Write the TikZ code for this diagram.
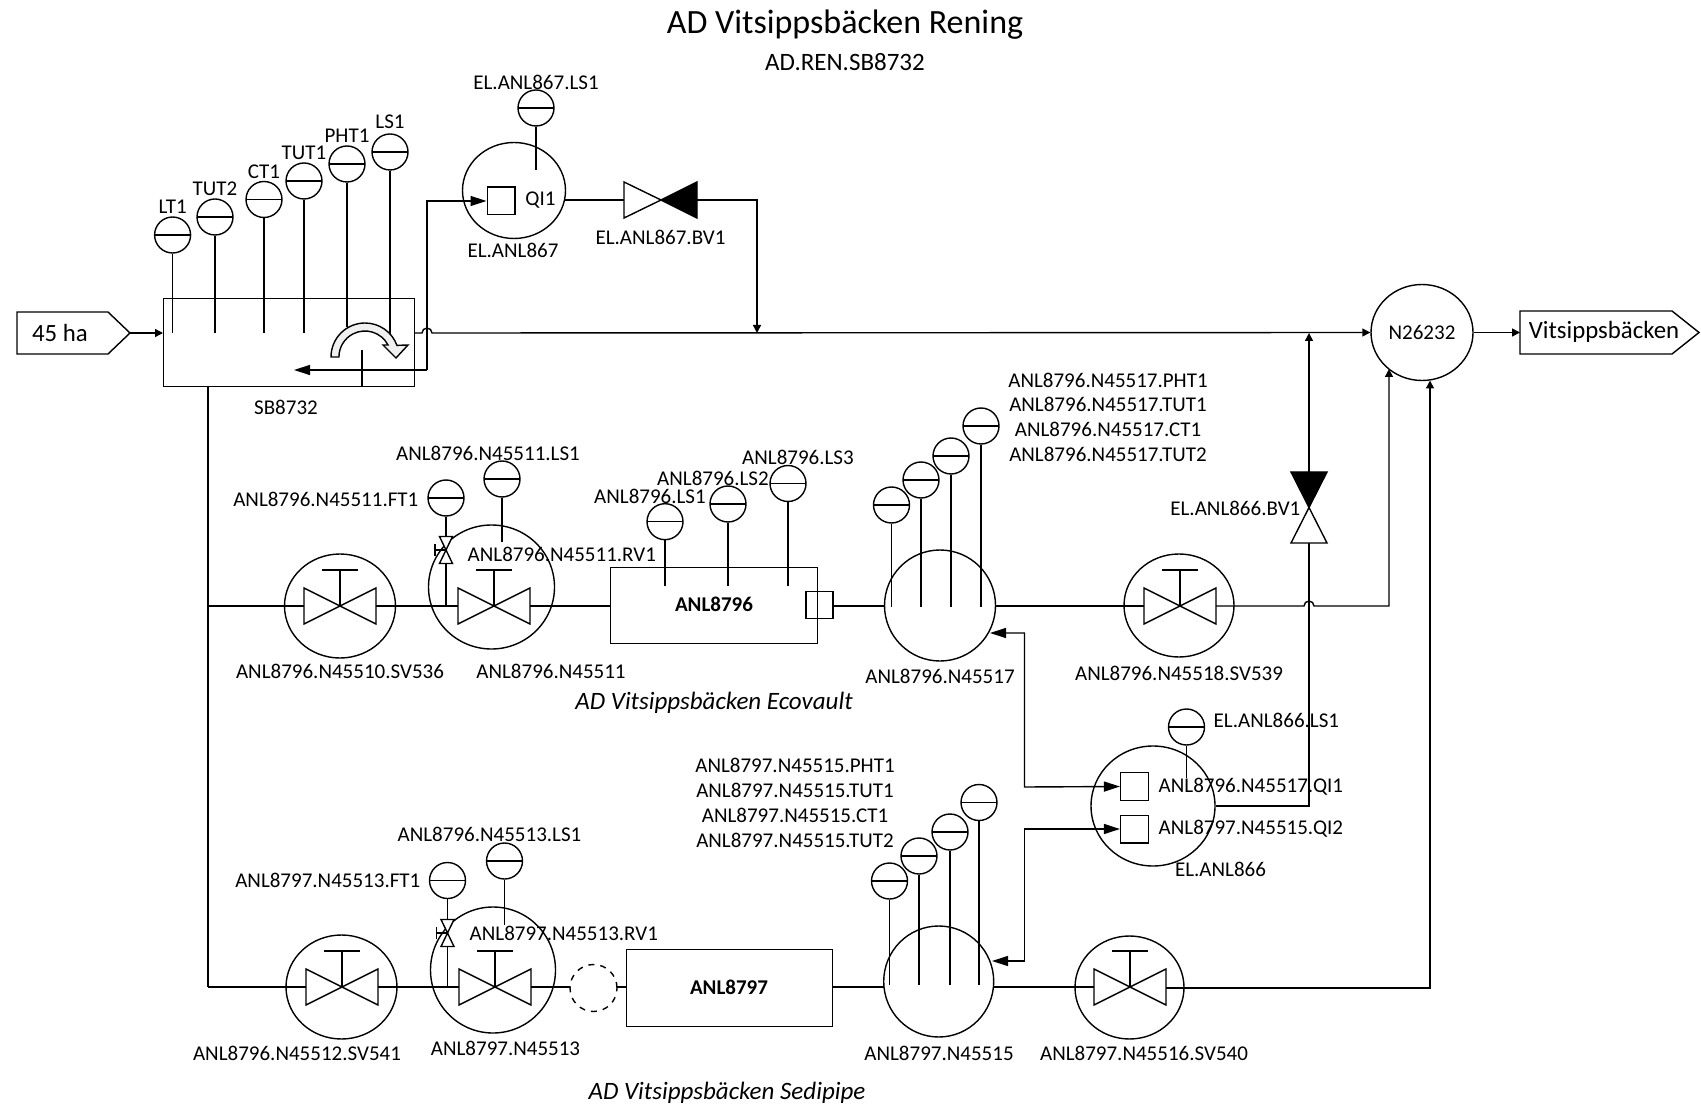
\documentclass[tikz,border=0pt]{standalone}
\usepackage{fontspec}
\setmainfont{Carlito}
\usetikzlibrary{shapes.geometric,arrows.meta}
\begin{document}
\begin{tikzpicture}[x=0.5pt,y=-0.5pt,line width=0.7pt,
  lbl/.style={font=\fontsize{10.5}{12}\selectfont,inner sep=0pt},
  big/.style={font=\fontsize{12.4}{14}\selectfont,inner sep=0pt},
  itl/.style={font=\fontsize{12.5}{14}\selectfont\itshape,inner sep=0pt},
  boldlbl/.style={font=\fontsize{10.5}{12}\selectfont\bfseries,inner sep=0pt},
  inst/.style={circle,draw,fill=white,minimum size=18pt,inner sep=0pt,
    path picture={\draw (path picture bounding box.west) -- (path picture bounding box.east);}},
  vessel/.style={ellipse,draw,inner sep=0pt},
  sq/.style={draw,fill=white,minimum size=13.8pt,inner sep=0pt},
  sa/.style={-{Triangle[length=4pt,width=4pt]}},
  ba/.style={-{Triangle[length=8pt,width=5pt]}},
  dba/.style={{Triangle[length=8pt,width=5pt]}-{Triangle[length=8pt,width=5pt]}},
  gatev/.pic={\draw[fill=white] (-36,-18) -- (0,0) -- (-36,18) -- cycle;
              \draw[fill=white] (36,-18) -- (0,0) -- (36,18) -- cycle;
              \draw (0,0) -- (0,-36); \draw (-18,-36) -- (18,-36);},
  smallv/.pic={\draw[fill=white] (-6.5,-13.5) -- (6.5,-13.5) -- (0,0) -- cycle;
               \draw[fill=white] (-6.5,13.5) -- (6.5,13.5) -- (0,0) -- cycle;
               \draw (0,0) -- (-11,0); \draw (-11,-6) -- (-11,6);}
]
\useasboundingbox (0,0) rectangle (1701,1106);

% titles
\node[font=\fontsize{17}{20}\selectfont,inner sep=0pt] (title) at (845,25) {AD Vitsippsbäcken Rening};
\node[font=\fontsize{12.5}{15}\selectfont,inner sep=0pt] (subtitle) at (845,62) {AD.REN.SB8732};

% inlet
\draw (17,312) -- (108,312) -- (130,333) -- (108,354) -- (17,354) -- cycle;
\node[big] (inlet) at (60,333) {45 ha};
\coordinate (inlettip) at (130,333);

% SB8732 box
\node[draw,minimum width=125.5pt,minimum height=44pt,inner sep=0pt,anchor=north west] (sb) at (163,298) {};
\node[lbl] (sblbl) at (286,407) {SB8732};
\draw[sa] (inlettip) -- (163,333);

% instruments on SB8732
\foreach \n/\x/\y/\t in {lt/172.6/235/LT1, tuttwo/215/217/TUT2, ct/264/199.5/CT1, tutone/304/181/TUT1}{
  \node[inst] (\n) at (\x,\y) {};
  \node[lbl] (\n l) at (\x,\y-28) {\t};
  \draw (\n.south) -- (\x,333);
}
\node[inst] (pht) at (347,164) {};
\node[lbl] (phtl) at (347,136) {PHT1};
\draw (pht.south) -- (347,327);
\node[inst] (lsone) at (390,152) {};
\node[lbl] (lsonel) at (390,122) {LS1};
\draw (lsone.south) -- (390,347);

% curved hollow arrow
\draw[fill=gray!12] (331,357) arc[start angle=180,end angle=20,radius=17pt]
   -- (408,345) -- (396,358) -- (383,345) -- (388,345)
   arc[start angle=27.5,end angle=180,radius=13pt] -- cycle;
\draw (362,350) -- (362,386);

% EL.ANL867
\node[vessel,minimum width=51.5pt,minimum height=48pt] (el867) at (514,190.5) {};
\node[sq] (sq867) at (501,201) {};
\node[lbl] (qi867) at (540.5,200) {QI1};
\node[lbl] (el867l) at (513,250) {EL.ANL867};
\node[inst] (el867ls) at (536,108) {};
\node[lbl] (el867lsl) at (536,82) {EL.ANL867.LS1};
\draw (el867ls.south) -- (536,170);
\draw[ba] (427,370) -- (294,370);
\draw[ba] (427,370) -- (427,201) -- (sq867.west);

% main line with hop
\node[vessel,minimum width=51pt,minimum height=48pt,font=\fontsize{10.5}{12}\selectfont] (n26) at (1422,332.5) {N26232};
\draw[sa] (414,333) -- (422,333) arc[start angle=180,end angle=0,radius=2.5pt] -- (n26.west);

% EL.ANL867.BV1
\draw (564.5,200) -- (624,200);
\draw[fill=white] (624,182) -- (661,200) -- (624,218) -- cycle;
\draw[fill=black] (697,182) -- (661,200) -- (697,218) -- cycle;
\node[lbl] (bv867l) at (660.5,237) {EL.ANL867.BV1};
\draw[sa] (697,200) -- (757,200) -- (757,333);

% outlet
\draw (1520,311) -- (1672,311) -- (1699,332.5) -- (1672,354) -- (1520,354) -- cycle;
\node[big] (outlet) at (1604,332) {Vitsippsbäcken};
\draw[sa] (n26.east) -- (1520,332.5);

% trunk
\draw (208,386) -- (208,987);

% ===== branch 1 (Ecovault) =====
\node[vessel,minimum width=55.5pt,minimum height=52pt] (sv536) at (340,606) {};
\pic at (340,606) {gatev};
\node[vessel,minimum width=63pt,minimum height=62pt] (n511) at (491.5,587) {};
\pic at (494,606) {gatev};
\draw (208,606) -- (304,606);
\draw (376,606) -- (458,606);
\draw (530,606) -- (610,606);
\node[inst] (ft511) at (446,498) {};
\draw (ft511.south) -- (446,537);
\pic at (446,550) {smallv};
\draw (446,563.5) -- (446,606);
\node[lbl,anchor=east] (ft511l) at (419,499) {ANL8796.N45511.FT1};
\node[inst] (ls511) at (502,479) {};
\draw (ls511.south) -- (502,542);
\node[lbl] (ls511l) at (488,453) {ANL8796.N45511.LS1};
\node[lbl,anchor=west] (rv511l) at (467,554) {ANL8796.N45511.RV1};
\node[lbl] (sv536l) at (340,671) {ANL8796.N45510.SV536};
\node[lbl] (n511l) at (551,671) {ANL8796.N45511};

\node[draw,minimum width=103.5pt,minimum height=38pt,inner sep=0pt,anchor=north west] (anl96) at (610,567) {};
\node[boldlbl] (anl96l) at (714,604) {ANL8796};
\node[draw,minimum size=13.5pt,inner sep=0pt] (sq96) at (819.5,605) {};
\foreach \n/\x/\y/\lx/\ly/\t in {lsa/665/521.7/650/496/ANL8796.LS1, lsb/728/504/713/478/ANL8796.LS2, lsc/788/483.5/798/457/ANL8796.LS3}{
  \node[inst] (\n) at (\x,\y) {};
  \draw (\n.south) -- (\x,586);
  \node[lbl] (\n l) at (\lx,\ly) {\t};
}
\node[itl] (eco) at (714,703) {AD Vitsippsbäcken Ecovault};

\node[vessel,minimum width=55.5pt,minimum height=55.5pt] (n517) at (940,605.5) {};
\draw (833,606) -- (885,606);
\foreach \n/\x/\y in {ia/891.5/505, ib/921/480, ic/951/456, id/981/426}{
  \node[inst] (\n) at (\x,\y) {};
  \draw (\n.south) -- (\x,607);
}
\node[lbl] (n517a) at (1108,380) {ANL8796.N45517.PHT1};
\node[lbl] (n517b) at (1108,404) {ANL8796.N45517.TUT1};
\node[lbl] (n517c) at (1108,429) {ANL8796.N45517.CT1};
\node[lbl] (n517d) at (1108,454) {ANL8796.N45517.TUT2};
\node[lbl] (n517l) at (940,676) {ANL8796.N45517};

\node[vessel,minimum width=55pt,minimum height=51.5pt] (sv539) at (1179,605.5) {};
\pic at (1180,606) {gatev};
\draw (995,606) -- (1144,606);
\node[lbl] (sv539l) at (1179,673) {ANL8796.N45518.SV539};
\draw[sa] (1216,606) -- (1304,606) arc[start angle=180,end angle=0,radius=2.5pt] -- (1389,606) -- (1389,369);

% EL.ANL866
\node[vessel,minimum width=62pt,minimum height=60pt] (el866) at (1153,806) {};
\node[sq] (sqa) at (1134.4,786.5) {};
\node[sq] (sqb) at (1134.4,829) {};
\node[lbl,anchor=west] (qia) at (1158,787) {ANL8796.N45517.QI1};
\node[lbl,anchor=west] (qib) at (1158,829) {ANL8797.N45515.QI2};
\node[lbl] (el866l) at (1220.5,869) {EL.ANL866};
\node[inst] (el866ls) at (1186.5,727) {};
\draw (el866ls.south) -- (1186.5,778);
\node[lbl,anchor=west] (el866lsl) at (1213,720) {EL.ANL866.LS1};

% EL.ANL866.BV1
\draw (el866.east) -- (1309,806) -- (1309,543);
\draw[fill=white] (1291,543) -- (1327,543) -- (1309,507.5) -- cycle;
\draw[fill=black] (1291,472) -- (1327,472) -- (1309,507.5) -- cycle;
\draw[sa] (1309,472) -- (1309,333);
\node[lbl,anchor=east] (bv866l) at (1301,508) {EL.ANL866.BV1};

% signals to squares
\draw[dba] (990,633) -- (1024.5,633) -- (1024.5,787) -- (sqa.west);
\draw[dba] (992,961) -- (1024.5,961) -- (1024.5,829) -- (sqb.west);

% ===== branch 2 (Sedipipe) =====
\node[vessel,minimum width=55.5pt,minimum height=52pt] (sv541) at (341.5,987) {};
\pic at (342,987) {gatev};
\node[vessel,minimum width=62.5pt,minimum height=63pt] (n513) at (493,970) {};
\pic at (495,987) {gatev};
\draw (208,987) -- (306,987);
\draw (378,987) -- (459,987);
\draw (531,987) -- (570,987);
\node[circle,draw,dashed,minimum size=23.5pt,inner sep=0pt] (dc) at (593.5,988) {};
\draw (617,987) -- (626,987);
\node[inst] (ft513) at (447.5,880.5) {};
\draw (ft513.south) -- (447.5,919.5);
\pic at (447.5,933) {smallv};
\draw (447.5,946.5) -- (447.5,987);
\node[lbl,anchor=east] (ft513l) at (421,880) {ANL8797.N45513.FT1};
\node[inst] (ls513) at (504.5,861) {};
\draw (ls513.south) -- (504.5,925);
\node[lbl] (ls513l) at (489.5,834) {ANL8796.N45513.LS1};
\node[lbl,anchor=west] (rv513l) at (469,933) {ANL8797.N45513.RV1};
\node[lbl] (sv541l) at (297,1053) {ANL8796.N45512.SV541};
\node[lbl] (n513l) at (505.5,1048) {ANL8797.N45513};

\node[draw,minimum width=103pt,minimum height=38.5pt,inner sep=0pt,anchor=north west] (anl97) at (626,949) {};
\node[boldlbl] (anl97l) at (729,987) {ANL8797};
\draw (832,987) -- (884,987);

\node[vessel,minimum width=55pt,minimum height=55.5pt] (n515) at (938.7,981.5) {};
\foreach \n/\x/\y in {ja/889.5/881, jb/919/856, jc/950/832, jd/979/802.5}{
  \node[inst] (\n) at (\x,\y) {};
  \draw (\n.south) -- (\x,985);
}
\node[lbl] (n515a) at (795,765) {ANL8797.N45515.PHT1};
\node[lbl] (n515b) at (795,790) {ANL8797.N45515.TUT1};
\node[lbl] (n515c) at (795,815) {ANL8797.N45515.CT1};
\node[lbl] (n515d) at (795,840) {ANL8797.N45515.TUT2};
\node[lbl] (n515l) at (939,1053) {ANL8797.N45515};

\node[vessel,minimum width=54.5pt,minimum height=51.5pt] (sv540) at (1129.5,987.5) {};
\pic at (1130,987) {gatev};
\draw (994,987) -- (1094,987);
\node[lbl] (sv540l) at (1144,1053) {ANL8797.N45516.SV540};
\draw[sa] (1166,988) -- (1430,988) -- (1430,380.5);

\node[itl] (sedi) at (727,1093) {AD Vitsippsbäcken Sedipipe};
\end{tikzpicture}
\end{document}
